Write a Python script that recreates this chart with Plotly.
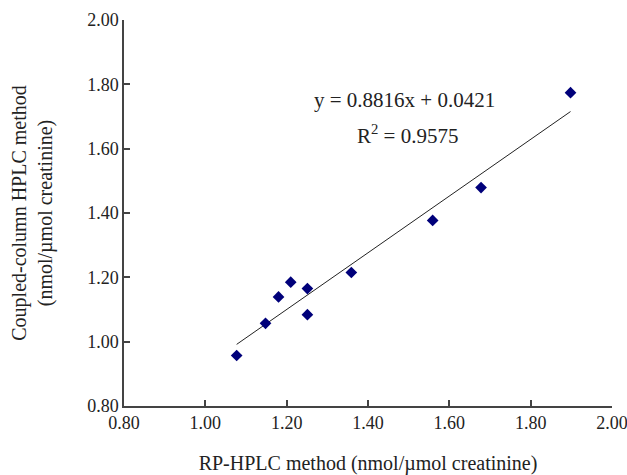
import plotly.graph_objects as go

rp_hplc = [1.077, 1.148, 1.180, 1.210, 1.251, 1.251, 1.359, 1.559, 1.678, 1.898]
coupled_hplc = [0.957, 1.057, 1.139, 1.185, 1.165, 1.084, 1.215, 1.377, 1.479, 1.774]

slope = 0.8816
intercept = 0.0421
fit_x = [min(rp_hplc), max(rp_hplc)]
fit_y = [slope * v + intercept for v in fit_x]

tick_vals = [0.8, 1.0, 1.2, 1.4, 1.6, 1.8, 2.0]
tick_text = ["0.80", "1.00", "1.20", "1.40", "1.60", "1.80", "2.00"]

FONT = "Liberation Serif, Times New Roman, serif"

fig = go.Figure()
fig.add_trace(go.Scatter(x=fit_x, y=fit_y, mode="lines",
                         line=dict(color="#222222", width=1), showlegend=False))
fig.add_trace(go.Scatter(x=rp_hplc, y=coupled_hplc, mode="markers",
                         marker=dict(symbol="diamond", size=9, color="#00007a"),
                         showlegend=False))

fig.add_annotation(x=1.49, y=1.75, xref="x", yref="y",
                   text="y = 0.8816x + 0.0421",
                   showarrow=False, align="center",
                   font=dict(family=FONT, size=21, color="#222222"))
fig.add_annotation(x=1.498, y=1.645, xref="x", yref="y",
                   text="R<sup>2</sup> = 0.9575",
                   showarrow=False, align="center",
                   font=dict(family=FONT, size=21, color="#222222"))

axis_common = dict(range=[0.8, 2.0], tickvals=tick_vals, ticktext=tick_text,
                   ticks="inside", ticklen=6, tickwidth=1.5, tickcolor="#444444",
                   showline=True, linecolor="#444444", linewidth=1.5,
                   showgrid=False, zeroline=False, ticklabeloverflow="allow",
                   tickfont=dict(family=FONT, size=18, color="#222222"))

fig.update_xaxes(**axis_common,
                 title=dict(text="RP-HPLC method (nmol/µmol creatinine)",
                            font=dict(family=FONT, size=20, color="#222222"),
                            standoff=25))
fig.update_yaxes(**axis_common,
                 title=dict(text="Coupled-column HPLC method<br>(nmol/µmol creatinine)",
                            font=dict(family=FONT, size=20, color="#222222"),
                            standoff=29))

fig.update_layout(width=627, height=475, plot_bgcolor="white", paper_bgcolor="white",
                  margin=dict(l=124, r=15, t=20, b=69, autoexpand=False))

fig.write_html("out.html", config={"displayModeBar": False},
               post_script="document.body.style.margin='0';document.body.style.overflow='hidden';")
